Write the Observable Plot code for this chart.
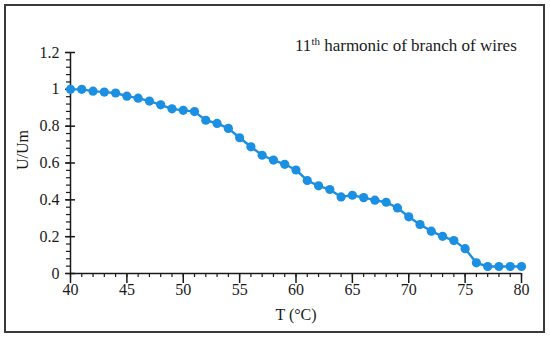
<!DOCTYPE html>
<html>
<head>
<meta charset="utf-8">
<script src="https://cdn.jsdelivr.net/npm/d3@7"></script>
<script src="https://cdn.jsdelivr.net/npm/@observablehq/plot@0.6"></script>
<style>
  html, body { margin: 0; padding: 0; background: #fff; }
  #wrap { position: relative; width: 550px; height: 337px; overflow: hidden; background: #fff; }
  #wrap svg { position: absolute; left: 0; top: 0; }
  #border { position: absolute; left: 4px; top: 4px; width: 537px; height: 325px; border: 2px solid #3a3a3a; box-sizing: content-box; pointer-events: none; }
  #title { position: absolute; left: 295px; top: 35px; font-family: 'Liberation Serif', 'DejaVu Serif', serif; font-size: 17px; color: #1a1a1a; white-space: nowrap; line-height: 22px; }
  #title sup { font-size: 11px; vertical-align: 6px; line-height: 0; }
</style>
</head>
<body>
<div id="wrap">
  <div id="title"><span id="tNum"></span><sup id="tSup"></sup><span id="tRest"></span></div>
  <div id="border"></div>
</div>
<script>
const temperature = [40,41,42,43,44,45,46,47,48,49,50,51,52,53,54,55,56,57,58,59,60,61,62,63,64,65,66,67,68,69,70,71,72,73,74,75,76,77,78,79,80];
const ratio = [1.0,1.0,0.99,0.985,0.98,0.963,0.952,0.936,0.916,0.894,0.886,0.879,0.832,0.815,0.788,0.737,0.688,0.642,0.616,0.593,0.562,0.505,0.476,0.456,0.416,0.425,0.412,0.398,0.387,0.356,0.308,0.266,0.230,0.202,0.179,0.135,0.058,0.038,0.038,0.038,0.038];
const xMajorTicks = [40,45,50,55,60,65,70,75,80];
const yMajorTicks = [0,0.2,0.4,0.6,0.8,1,1.2];
const xTickLabels = ["40","45","50","55","60","65","70","75","80"];
const yTickLabels = ["0","0.2","0.4","0.6","0.8","1","1.2"];
const xTitle = "T (°C)";
const yTitle = "U/Um";
const titleParts = ["11", "th", " harmonic of branch of wires"];

document.getElementById("tNum").textContent = titleParts[0];
document.getElementById("tSup").textContent = titleParts[1];
document.getElementById("tRest").textContent = titleParts[2];

const xMinorTicks = d3.range(40, 80.5, 1);
const yMinorTicks = d3.range(0, 1.2001, 0.04);
const data = temperature.map((t, i) => ({t, r: ratio[i]}));
const blue = "#1b8fe2";
const ink = "#1a1a1a";

const chart = Plot.plot({
  width: 550,
  height: 337,
  marginLeft: 70,
  marginRight: 29,
  marginTop: 52,
  marginBottom: 64,
  style: {fontFamily: "'Liberation Serif', 'DejaVu Serif', serif", fontSize: "16px", color: ink, background: "transparent"},
  x: {domain: [40, 80]},
  y: {domain: [0, 1.2]},
  marks: [
    Plot.axisX(xMinorTicks, {tickSize: 4, fill: "none", label: null, strokeWidth: 1.2}),
    Plot.axisX(xMajorTicks, {tickSize: 5, tickPadding: 5, tickFormat: d => xTickLabels[xMajorTicks.indexOf(d)], label: null, strokeWidth: 1.5}),
    Plot.axisX(xMajorTicks, {tickSize: 5, insetBottom: -5, fill: "none", label: null, strokeWidth: 1.5}),
    Plot.axisY(yMinorTicks, {tickSize: 4, fill: "none", label: null, strokeWidth: 1.2}),
    Plot.axisY(yMajorTicks, {tickSize: 5, tickPadding: 6, tickFormat: d => yTickLabels[yMajorTicks.indexOf(d)], label: null, strokeWidth: 1.5}),
    Plot.axisY(yMajorTicks, {tickSize: 5, insetLeft: 5, fill: "none", label: null, strokeWidth: 1.5}),
    Plot.ruleY([0], {stroke: ink, strokeWidth: 1.5}),
    Plot.ruleX([40], {stroke: ink, strokeWidth: 1.5}),
    Plot.line(data, {x: "t", y: "r", stroke: blue, strokeWidth: 2.4}),
    Plot.dot(data, {x: "t", y: "r", r: 4.6, fill: blue, stroke: null}),
    Plot.text([xTitle], {text: d => d, frameAnchor: "bottom", dy: 41, lineAnchor: "middle", fill: ink, fontSize: 16}),
    Plot.text([yTitle], {text: d => d, frameAnchor: "left", rotate: -90, dx: -48, dy: 7, lineAnchor: "middle", fill: ink, fontSize: 16})
  ]
});
document.getElementById("wrap").insertBefore(chart, document.getElementById("title"));
</script>
</body>
</html>
